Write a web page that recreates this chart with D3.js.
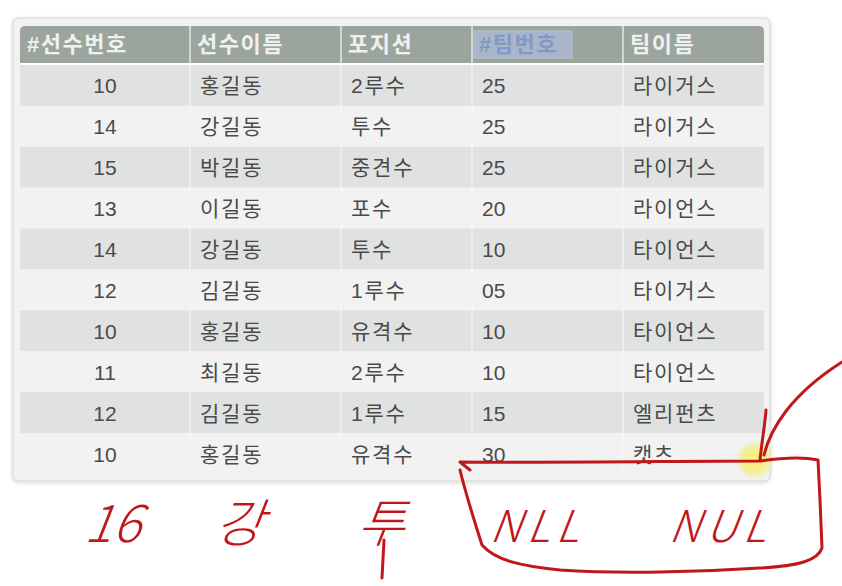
<!DOCTYPE html>
<html>
<head>
<meta charset="utf-8">
<script src="https://cdn.jsdelivr.net/npm/d3@7"></script>
<style>
  body { margin: 0; background: #ffffff; }
  svg { display: block; }
</style>
</head>
<body>
<div id="chart"></div>
<script>
  var w = 842,
      h = 586;

  // table columns and values
  var headers = ["#선수번호", "선수이름", "포지션", "#팀번호", "팀이름"];
  var playerNo = ["10", "14", "15", "13", "14", "12", "10", "11", "12", "10"];
  var playerName = ["홍길동", "강길동", "박길동", "이길동", "강길동", "김길동", "홍길동", "최길동", "김길동", "홍길동"];
  var position = ["2루수", "투수", "중견수", "포수", "투수", "1루수", "유격수", "2루수", "1루수", "유격수"];
  var teamNo = ["25", "25", "25", "20", "10", "05", "10", "10", "15", "30"];
  var teamName = ["라이거스", "라이거스", "라이거스", "라이언스", "타이언스", "타이거스", "타이언스", "타이언스", "엘리펀츠", "캣츠"];

  // handwritten row under the table
  var scribble = ["16", "강", "투", "NLL", "NUL"];

  var columns = [playerNo, playerName, position, teamNo, teamName];

  // layout
  var colWidths = [170, 151, 131, 151, 141],
      tableX = 20,
      headerTop = 26,
      headerBottom = 63,
      bodyTop = 65,
      bodyBottom = 474;

  var edges = [tableX].concat(Array.from(d3.cumsum(colWidths), function(d){ return tableX + d; }));

  var x = d3.scaleOrdinal().domain(d3.range(headers.length)).range(edges.slice(0, -1));
  var cw = d3.scaleOrdinal().domain(d3.range(headers.length)).range(colWidths);
  var y = d3.scaleBand().domain(d3.range(playerNo.length)).range([bodyTop, bodyBottom]);

  var cellFont = "'Liberation Sans', 'Noto Sans CJK KR', sans-serif";

  var svg = d3.select("#chart").append("svg")
      .attr("width", w)
      .attr("height", h);

  var defs = svg.append("defs");
  var shadow = defs.append("filter").attr("id", "shadow")
      .attr("x", "-5%").attr("y", "-5%").attr("width", "110%").attr("height", "110%");
  shadow.append("feDropShadow").attr("dx", 0).attr("dy", 1).attr("stdDeviation", 2)
      .attr("flood-color", "#000").attr("flood-opacity", 0.18);
  var glow = defs.append("radialGradient").attr("id", "glow");
  glow.append("stop").attr("offset", "0%").attr("stop-color", "#fff36a").attr("stop-opacity", 0.95);
  glow.append("stop").attr("offset", "60%").attr("stop-color", "#f6ec6e").attr("stop-opacity", 0.7);
  glow.append("stop").attr("offset", "100%").attr("stop-color", "#f6ec6e").attr("stop-opacity", 0);

  // outer panel
  svg.append("rect")
      .attr("x", 13).attr("y", 18)
      .attr("width", 757).attr("height", 463)
      .attr("rx", 5)
      .attr("fill", "#f1f2f1")
      .attr("stroke", "#d3d6d3")
      .attr("filter", "url(#shadow)");

  // header band
  svg.append("path")
      .attr("d", "M" + tableX + "," + headerBottom + "V" + (headerTop + 5) + "Q" + tableX + "," + headerTop + " " + (tableX + 5) + "," + headerTop +
                 "H" + (edges[5] - 5) + "Q" + edges[5] + "," + headerTop + " " + edges[5] + "," + (headerTop + 5) + "V" + headerBottom + "Z")
      .attr("fill", "#9ba59e");

  // body rows
  svg.selectAll("rect.row").data(playerNo)
    .enter().append("rect")
      .attr("class", "row")
      .attr("x", tableX)
      .attr("y", function(d, i){ return y(i); })
      .attr("width", edges[5] - tableX)
      .attr("height", y.bandwidth())
      .attr("fill", function(d, i){ return i % 2 === 0 ? "#e0e2e1" : "#f1f2f1"; });

  // column separators
  svg.selectAll("line.sep").data(edges.slice(1, -1))
    .enter().append("line")
      .attr("class", "sep")
      .attr("x1", function(d){ return d; })
      .attr("x2", function(d){ return d; })
      .attr("y1", headerTop)
      .attr("y2", bodyBottom)
      .attr("stroke", "#f6f7f6")
      .attr("stroke-width", 1.2);

  svg.append("line")
      .attr("x1", tableX).attr("x2", edges[5])
      .attr("y1", 64).attr("y2", 64)
      .attr("stroke", "#ffffff").attr("stroke-width", 2);

  // selected header (#팀번호)
  svg.append("rect")
      .attr("x", x(3) + 2).attr("y", 31)
      .attr("width", 98).attr("height", 27)
      .attr("fill", "#a9b6c9")
      .attr("stroke", "#b7c2d2");

  svg.selectAll("text.head").data(headers)
    .enter().append("text")
      .attr("class", "head")
      .attr("x", function(d, i){ return x(i) + 7; })
      .attr("y", 52)
      .attr("font-family", cellFont)
      .attr("font-size", 22)
      .attr("font-weight", "bold")
      .attr("letter-spacing", 1.5)
      .attr("fill", function(d, i){ return i === 3 ? "#8199c4" : "#eef1ee"; })
      .text(function(d){ return d; });

  // cells
  columns.forEach(function(col, c){
    svg.selectAll("text.c" + c).data(col)
      .enter().append("text")
        .attr("class", "c" + c)
        .attr("x", c === 0 ? x(c) + cw(c) / 2 : x(c) + 10)
        .attr("y", function(d, i){ return y(i) + y.bandwidth() / 2 + 8; })
        .attr("text-anchor", c === 0 ? "middle" : "start")
        .attr("font-family", cellFont)
        .attr("font-size", 21)
        .attr("letter-spacing", c === 0 || c === 3 ? 0 : 1.8)
        .attr("fill", "#4a4a4a")
        .text(function(d){ return d; });
  });

  // cursor highlight
  svg.append("circle")
      .attr("cx", 755).attr("cy", 460).attr("r", 20)
      .attr("fill", "url(#glow)");

  // red pen marks
  var pen = svg.append("g")
      .attr("fill", "none")
      .attr("stroke", "#c0171a")
      .attr("stroke-width", 3)
      .attr("stroke-linecap", "round")
      .attr("stroke-linejoin", "round");

  pen.append("path")
      .attr("d", "M470,470 L460,462 C560,463 680,461 760,461 C780,458 800,456 818,460 L820,500 L822,548 C818,560 800,566 760,568 C700,572 620,574 560,570 C520,566 495,560 482,545 C474,520 466,495 460,470");
  pen.append("path")
      .attr("d", "M764,455 C770,430 790,395 842,362");
  pen.append("path")
      .attr("d", "M766,410 C765,425 762,440 760,460");
  pen.append("path")
      .attr("d", "M384,540 L382,578");

  var scribbleX = d3.scaleOrdinal().domain(scribble).range([112, 238, 380, 537, 720]);

  svg.selectAll("text.pen").data(scribble)
    .enter().append("text")
      .attr("class", "pen")
      .attr("x", function(d){ return scribbleX(d); })
      .attr("y", function(d){ return /[A-Z]/.test(d) ? 542 : 542; })
      .attr("text-anchor", "middle")
      .attr("font-family", "'Noto Sans CJK KR', 'DejaVu Sans', sans-serif")
      .attr("font-weight", 300)
      .attr("font-style", "italic")
      .attr("font-size", function(d){ return /[A-Z]/.test(d) ? 44 : 52; })
      .attr("letter-spacing", function(d){ return /[A-Z]/.test(d) ? 6 : 0; })
      .attr("fill", "#c0171a")
      .attr("transform", "skewX(-8) translate(" + (0.14 * 540) + ",0)")
      .text(function(d){ return d; });
</script>
</body>
</html>
